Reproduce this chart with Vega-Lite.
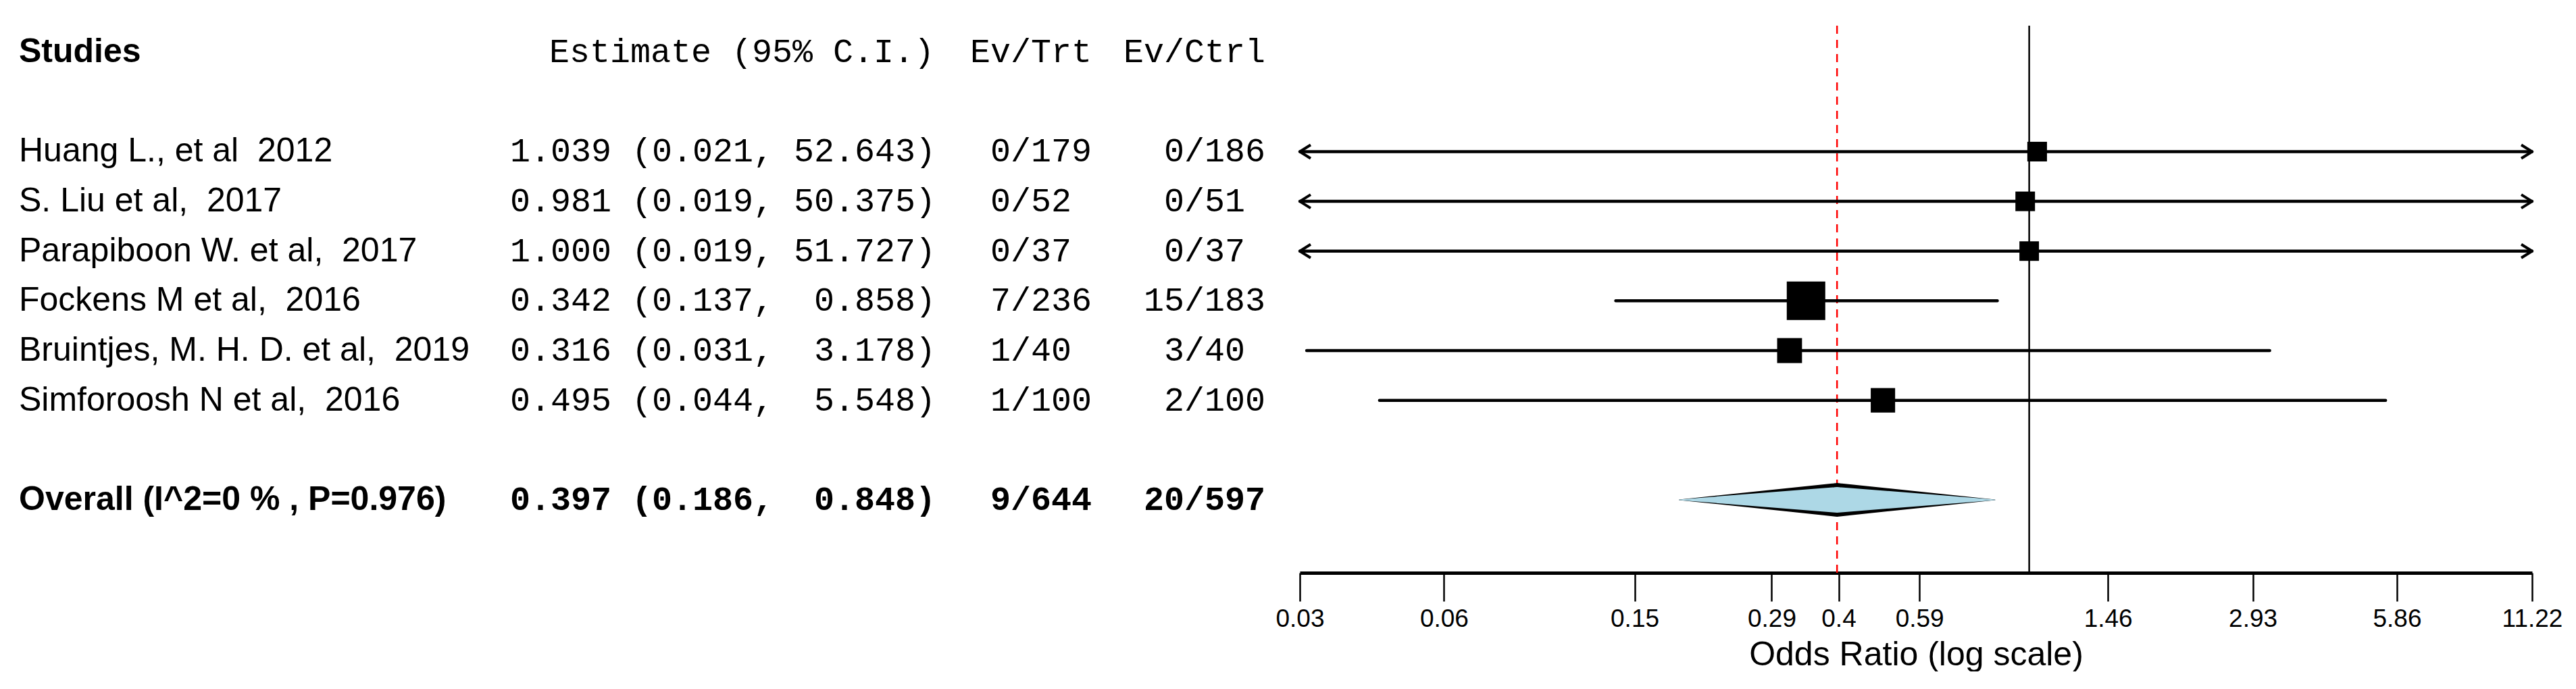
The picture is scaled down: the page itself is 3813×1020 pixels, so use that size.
{
  "$schema": "https://vega.github.io/schema/vega-lite/v6.json",
  "background": "white",
  "padding": {"left": 28, "top": 36, "right": 0, "bottom": 0},
  "autosize": {"type": "pad"},
  "spacing": 0,
  "bounds": "flush",
  "config": {"view": {"stroke": null}},
  "datasets": {
    "studies": [
      {"study": "Huang L., et al\u00a0\u00a02012", "est": 1.039, "lower": 0.021, "upper": 52.643, "ci": "1.039 (0.021, 52.643)", "ev_t": 0, "n_t": 179, "ev_c": 0, "n_c": 186, "weight": 3.75},
      {"study": "S. Liu et al,\u00a0\u00a02017", "est": 0.981, "lower": 0.019, "upper": 50.375, "ci": "0.981 (0.019, 50.375)", "ev_t": 0, "n_t": 52, "ev_c": 0, "n_c": 51, "weight": 3.70},
      {"study": "Parapiboon W. et al,\u00a0\u00a02017", "est": 1.000, "lower": 0.019, "upper": 51.727, "ci": "1.000 (0.019, 51.727)", "ev_t": 0, "n_t": 37, "ev_c": 0, "n_c": 37, "weight": 3.67},
      {"study": "Fockens M et al,\u00a0\u00a02016", "est": 0.342, "lower": 0.137, "upper": 0.858, "ci": "0.342 (0.137,\u00a0\u00a00.858)", "ev_t": 7, "n_t": 236, "ev_c": 15, "n_c": 183, "weight": 68.32},
      {"study": "Bruintjes, M. H. D. et al,\u00a0\u00a02019", "est": 0.316, "lower": 0.031, "upper": 3.178, "ci": "0.316 (0.031,\u00a0\u00a03.178)", "ev_t": 1, "n_t": 40, "ev_c": 3, "n_c": 40, "weight": 10.73},
      {"study": "Simforoosh N et al,\u00a0\u00a02016", "est": 0.495, "lower": 0.044, "upper": 5.548, "ci": "0.495 (0.044,\u00a0\u00a05.548)", "ev_t": 1, "n_t": 100, "ev_c": 2, "n_c": 100, "weight": 9.83}
    ],
    "overall": [
      {"study": "Overall (I^2=0 % , P=0.976)", "est": 0.397, "lower": 0.186, "upper": 0.848, "ci": "0.397 (0.186,\u00a0\u00a00.848)", "ev_t": 9, "n_t": 644, "ev_c": 20, "n_c": 597}
    ]
  },
  "hconcat": [
    {
      "width": 727, "height": 810,
      "layer": [
        {
          "data": {"values": [{}]},
          "mark": {"type": "text", "align": "left", "baseline": "middle", "font": "Liberation Sans", "fontSize": 50, "fontWeight": "bold", "color": "black"},
          "encoding": {
            "x": {"value": 0},
            "y": {"datum": "header", "type": "nominal", "axis": null, "scale": {"type": "point", "domain": ["header", "gap1", "Huang L., et al\u00a0\u00a02012", "S. Liu et al,\u00a0\u00a02017", "Parapiboon W. et al,\u00a0\u00a02017", "Fockens M et al,\u00a0\u00a02016", "Bruintjes, M. H. D. et al,\u00a0\u00a02019", "Simforoosh N et al,\u00a0\u00a02016", "gap2", "Overall (I^2=0 % , P=0.976)"], "padding": 1.025, "align": 0.266}},
            "text": {"value": "Studies"}
          }
        },
        {
          "data": {"name": "studies"},
          "mark": {"type": "text", "align": "left", "baseline": "middle", "font": "Liberation Sans", "fontSize": 50, "color": "black"},
          "encoding": {
            "x": {"value": 0},
            "y": {"field": "study", "type": "nominal", "axis": null},
            "text": {"field": "study"}
          }
        },
        {
          "data": {"name": "overall"},
          "mark": {"type": "text", "align": "left", "baseline": "middle", "font": "Liberation Sans", "fontSize": 50, "fontWeight": "bold", "color": "black"},
          "encoding": {
            "x": {"value": 0},
            "y": {"field": "study", "type": "nominal", "axis": null},
            "text": {"field": "study"}
          }
        }
      ]
    },
    {
      "width": 681, "height": 810,
      "layer": [
        {
          "data": {"values": [{}]},
          "mark": {"type": "text", "align": "left", "baseline": "middle", "font": "Liberation Mono", "fontSize": 50, "color": "black", "dx": 58},
          "encoding": {
            "x": {"value": 0},
            "y": {"datum": "header", "type": "nominal", "axis": null, "scale": {"type": "point", "domain": ["header", "gap1", "Huang L., et al\u00a0\u00a02012", "S. Liu et al,\u00a0\u00a02017", "Parapiboon W. et al,\u00a0\u00a02017", "Fockens M et al,\u00a0\u00a02016", "Bruintjes, M. H. D. et al,\u00a0\u00a02019", "Simforoosh N et al,\u00a0\u00a02016", "gap2", "Overall (I^2=0 % , P=0.976)"], "padding": 1.025, "align": 0.266}},
            "text": {"value": "Estimate (95% C.I.)"}
          }
        },
        {
          "data": {"name": "studies"},
          "mark": {"type": "text", "align": "left", "baseline": "middle", "font": "Liberation Mono", "fontSize": 50, "color": "black"},
          "encoding": {
            "x": {"value": 0},
            "y": {"field": "study", "type": "nominal", "axis": null},
            "text": {"field": "ci"}
          }
        },
        {
          "data": {"name": "overall"},
          "mark": {"type": "text", "align": "left", "baseline": "middle", "font": "Liberation Mono", "fontSize": 50, "fontWeight": "bold", "color": "black"},
          "encoding": {
            "x": {"value": 0},
            "y": {"field": "study", "type": "nominal", "axis": null},
            "text": {"field": "ci"}
          }
        }
      ]
    },
    {
      "width": 227, "height": 810,
      "layer": [
        {
          "data": {"values": [{}]},
          "mark": {"type": "text", "align": "left", "baseline": "middle", "font": "Liberation Mono", "fontSize": 50, "color": "black"},
          "encoding": {
            "x": {"value": 0},
            "y": {"datum": "header", "type": "nominal", "axis": null, "scale": {"type": "point", "domain": ["header", "gap1", "Huang L., et al\u00a0\u00a02012", "S. Liu et al,\u00a0\u00a02017", "Parapiboon W. et al,\u00a0\u00a02017", "Fockens M et al,\u00a0\u00a02016", "Bruintjes, M. H. D. et al,\u00a0\u00a02019", "Simforoosh N et al,\u00a0\u00a02016", "gap2", "Overall (I^2=0 % , P=0.976)"], "padding": 1.025, "align": 0.266}},
            "text": {"value": "Ev/Trt"}
          }
        },
        {
          "data": {"name": "studies"},
          "mark": {"type": "text", "align": "right", "baseline": "middle", "font": "Liberation Mono", "fontSize": 50, "color": "black", "dx": 60},
          "encoding": {"x": {"value": 0}, "y": {"field": "study", "type": "nominal", "axis": null}, "text": {"field": "ev_t", "type": "nominal"}}
        },
        {
          "data": {"name": "studies"},
          "mark": {"type": "text", "align": "left", "baseline": "middle", "font": "Liberation Mono", "fontSize": 50, "color": "black", "dx": 60},
          "encoding": {"x": {"value": 0}, "y": {"field": "study", "type": "nominal", "axis": null}, "text": {"value": "/"}}
        },
        {
          "data": {"name": "studies"},
          "mark": {"type": "text", "align": "left", "baseline": "middle", "font": "Liberation Mono", "fontSize": 50, "color": "black", "dx": 90},
          "encoding": {"x": {"value": 0}, "y": {"field": "study", "type": "nominal", "axis": null}, "text": {"field": "n_t", "type": "nominal"}}
        },
        {
          "data": {"name": "overall"},
          "mark": {"type": "text", "align": "right", "baseline": "middle", "font": "Liberation Mono", "fontSize": 50, "fontWeight": "bold", "color": "black", "dx": 60},
          "encoding": {"x": {"value": 0}, "y": {"field": "study", "type": "nominal", "axis": null}, "text": {"field": "ev_t", "type": "nominal"}}
        },
        {
          "data": {"name": "overall"},
          "mark": {"type": "text", "align": "left", "baseline": "middle", "font": "Liberation Mono", "fontSize": 50, "fontWeight": "bold", "color": "black", "dx": 60},
          "encoding": {"x": {"value": 0}, "y": {"field": "study", "type": "nominal", "axis": null}, "text": {"value": "/"}}
        },
        {
          "data": {"name": "overall"},
          "mark": {"type": "text", "align": "left", "baseline": "middle", "font": "Liberation Mono", "fontSize": 50, "fontWeight": "bold", "color": "black", "dx": 90},
          "encoding": {"x": {"value": 0}, "y": {"field": "study", "type": "nominal", "axis": null}, "text": {"field": "n_t", "type": "nominal"}}
        }
      ]
    },
    {
      "width": 261, "height": 810,
      "layer": [
        {
          "data": {"values": [{}]},
          "mark": {"type": "text", "align": "left", "baseline": "middle", "font": "Liberation Mono", "fontSize": 50, "color": "black"},
          "encoding": {
            "x": {"value": 0},
            "y": {"datum": "header", "type": "nominal", "axis": null, "scale": {"type": "point", "domain": ["header", "gap1", "Huang L., et al\u00a0\u00a02012", "S. Liu et al,\u00a0\u00a02017", "Parapiboon W. et al,\u00a0\u00a02017", "Fockens M et al,\u00a0\u00a02016", "Bruintjes, M. H. D. et al,\u00a0\u00a02019", "Simforoosh N et al,\u00a0\u00a02016", "gap2", "Overall (I^2=0 % , P=0.976)"], "padding": 1.025, "align": 0.266}},
            "text": {"value": "Ev/Ctrl"}
          }
        },
        {
          "data": {"name": "studies"},
          "mark": {"type": "text", "align": "right", "baseline": "middle", "font": "Liberation Mono", "fontSize": 50, "color": "black", "dx": 90},
          "encoding": {"x": {"value": 0}, "y": {"field": "study", "type": "nominal", "axis": null}, "text": {"field": "ev_c", "type": "nominal"}}
        },
        {
          "data": {"name": "studies"},
          "mark": {"type": "text", "align": "left", "baseline": "middle", "font": "Liberation Mono", "fontSize": 50, "color": "black", "dx": 90},
          "encoding": {"x": {"value": 0}, "y": {"field": "study", "type": "nominal", "axis": null}, "text": {"value": "/"}}
        },
        {
          "data": {"name": "studies"},
          "mark": {"type": "text", "align": "left", "baseline": "middle", "font": "Liberation Mono", "fontSize": 50, "color": "black", "dx": 120},
          "encoding": {"x": {"value": 0}, "y": {"field": "study", "type": "nominal", "axis": null}, "text": {"field": "n_c", "type": "nominal"}}
        },
        {
          "data": {"name": "overall"},
          "mark": {"type": "text", "align": "right", "baseline": "middle", "font": "Liberation Mono", "fontSize": 50, "fontWeight": "bold", "color": "black", "dx": 90},
          "encoding": {"x": {"value": 0}, "y": {"field": "study", "type": "nominal", "axis": null}, "text": {"field": "ev_c", "type": "nominal"}}
        },
        {
          "data": {"name": "overall"},
          "mark": {"type": "text", "align": "left", "baseline": "middle", "font": "Liberation Mono", "fontSize": 50, "fontWeight": "bold", "color": "black", "dx": 90},
          "encoding": {"x": {"value": 0}, "y": {"field": "study", "type": "nominal", "axis": null}, "text": {"value": "/"}}
        },
        {
          "data": {"name": "overall"},
          "mark": {"type": "text", "align": "left", "baseline": "middle", "font": "Liberation Mono", "fontSize": 50, "fontWeight": "bold", "color": "black", "dx": 120},
          "encoding": {"x": {"value": 0}, "y": {"field": "study", "type": "nominal", "axis": null}, "text": {"field": "n_c", "type": "nominal"}}
        }
      ]
    },
    {
      "width": 1824, "height": 810,
      "layer": [
        {
          "data": {"values": [{}]},
          "mark": {"type": "rule", "color": "black", "strokeWidth": 2.5},
          "encoding": {
            "x": {"datum": 1, "type": "quantitative",
              "scale": {"type": "log", "domain": [0.03, 11.22], "clamp": true, "nice": false},
              "axis": {"values": [0.03, 0.06, 0.15, 0.29, 0.4, 0.59, 1.46, 2.93, 5.86, 11.22], "format": "~g", "title": "Odds Ratio (log scale)", "grid": false, "domain": true, "domainColor": "black", "domainWidth": 5, "domainCap": "butt", "ticks": true, "tickColor": "black", "tickWidth": 2.5, "tickSize": 42, "labelFont": "Liberation Sans", "labelFontSize": 37, "labelColor": "black", "labelPadding": 8, "labelFlush": false, "labelOverlap": false, "titleFont": "Liberation Sans", "titleFontSize": 50, "titleFontWeight": "normal", "titleColor": "black", "titlePadding": 10}}
          }
        },
        {
          "data": {"name": "overall"},
          "mark": {"type": "rule", "color": "red", "strokeWidth": 2.5, "strokeDash": [12, 9]},
          "encoding": {
            "x": {"field": "est", "type": "quantitative"}
          }
        },
        {
          "data": {"name": "studies"},
          "mark": {"type": "rule", "color": "black", "strokeWidth": 4.5, "strokeCap": "round"},
          "encoding": {
            "x": {"field": "lower", "type": "quantitative"},
            "x2": {"field": "upper"},
            "y": {"field": "study", "type": "nominal", "axis": null, "scale": {"type": "point", "domain": ["header", "gap1", "Huang L., et al\u00a0\u00a02012", "S. Liu et al,\u00a0\u00a02017", "Parapiboon W. et al,\u00a0\u00a02017", "Fockens M et al,\u00a0\u00a02016", "Bruintjes, M. H. D. et al,\u00a0\u00a02019", "Simforoosh N et al,\u00a0\u00a02016", "gap2", "Overall (I^2=0 % , P=0.976)"], "padding": 1.025, "align": 0.266}}
          }
        },
        {
          "data": {"name": "studies"},
          "transform": [{"filter": "datum.lower < 0.03"}],
          "mark": {"type": "point", "shape": "M 0 0 L 1 -0.625 M 0 0 L 1 0.625", "filled": false, "stroke": "black", "strokeWidth": 4, "size": 1024, "opacity": 1},
          "encoding": {
            "x": {"field": "lower", "type": "quantitative"},
            "y": {"field": "study", "type": "nominal", "axis": null}
          }
        },
        {
          "data": {"name": "studies"},
          "transform": [{"filter": "datum.upper > 11.22"}],
          "mark": {"type": "point", "shape": "M 0 0 L -1 -0.625 M 0 0 L -1 0.625", "filled": false, "stroke": "black", "strokeWidth": 4, "size": 1024, "opacity": 1},
          "encoding": {
            "x": {"field": "upper", "type": "quantitative"},
            "y": {"field": "study", "type": "nominal", "axis": null}
          }
        },
        {
          "data": {"name": "studies"},
          "mark": {"type": "square", "color": "black", "opacity": 1},
          "encoding": {
            "x": {"field": "est", "type": "quantitative"},
            "y": {"field": "study", "type": "nominal", "axis": null},
            "size": {"field": "weight", "type": "quantitative", "legend": null, "scale": {"type": "pow", "exponent": 0.5, "domain": [3.7, 68.3], "range": [841, 3249]}}
          }
        },
        {
          "data": {"name": "overall"},
          "transform": [{"fold": ["lower", "est", "upper"], "as": ["key", "val"]}],
          "mark": {"type": "trail", "color": "black", "opacity": 1},
          "encoding": {
            "x": {"field": "val", "type": "quantitative"},
            "y": {"field": "study", "type": "nominal", "axis": null},
            "size": {"condition": {"test": "datum.key === 'est'", "value": 50}, "value": 0}
          }
        },
        {
          "data": {"name": "overall"},
          "transform": [{"fold": ["lower", "est", "upper"], "as": ["key", "val"]}],
          "mark": {"type": "trail", "color": "#ADD8E6", "opacity": 1},
          "encoding": {
            "x": {"field": "val", "type": "quantitative"},
            "y": {"field": "study", "type": "nominal", "axis": null},
            "size": {"condition": {"test": "datum.key === 'est'", "value": 38}, "value": 0}
          }
        }
      ]
    }
  ]
}
